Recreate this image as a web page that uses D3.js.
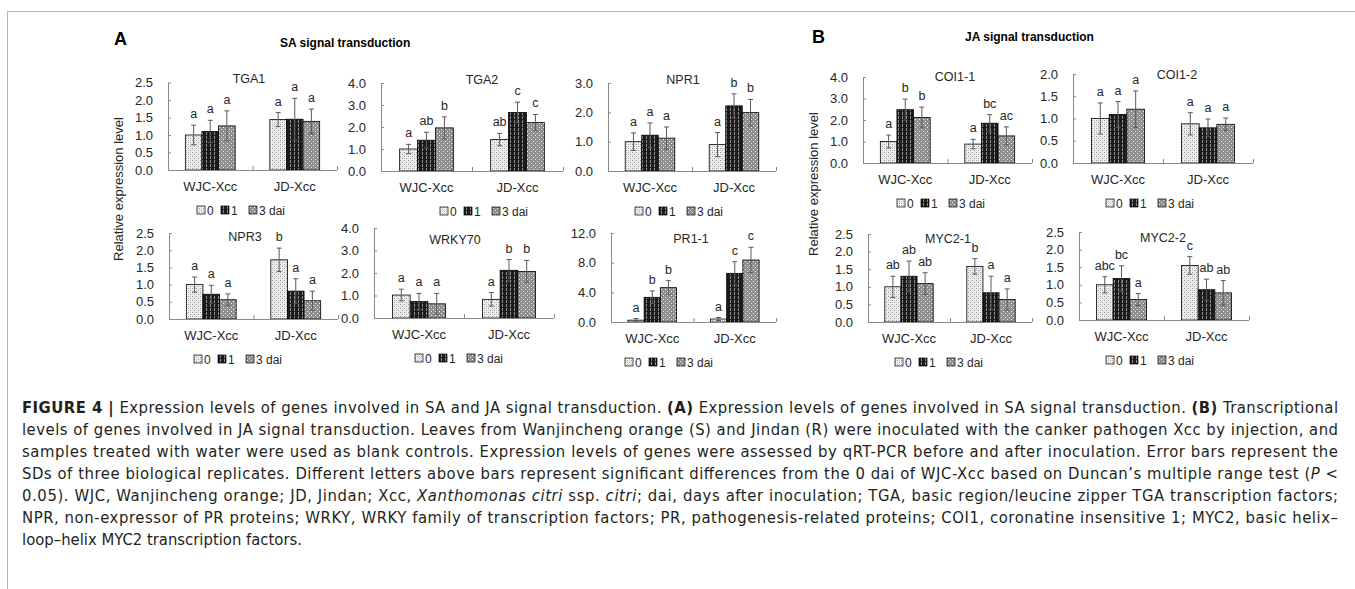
<!DOCTYPE html>
<html>
<head>
<meta charset="utf-8">
<title>Figure 4 - SA and JA signal transduction</title>
<script src="https://cdnjs.cloudflare.com/ajax/libs/d3/7.8.5/d3.min.js"></script>
<style>
    body { margin: 0; background: #fff; }
    svg { font-family: "Liberation Sans", Arial, sans-serif; }
    .tick text { fill: #262626; font-family: "Liberation Sans", Arial, sans-serif; }
    .ylab { font-size: 13px; fill: #262626; }
    .gene { font-size: 12.5px; fill: #262626; }
    .sig { font-size: 12.5px; fill: #262626; }
    .leg { font-size: 12px; fill: #262626; }
    .panel { font-weight: bold; font-size: 18px; fill: #000; }
    .ptitle { font-weight: bold; font-size: 12px; fill: #000; }
    .caption { font-family: "Liberation Sans Narrow", "DejaVu Sans Condensed", sans-serif; font-size: 16.5px; fill: #231f20; }
</style>
</head>
<body>
<div id="chart"></div>
<script>
// ---- data ----
var genes = ["TGA1", "TGA2", "NPR1", "NPR3", "WRKY70", "PR1-1", "COI1-1", "COI1-2", "MYC2-1", "MYC2-2"];
var categories = ["WJC-Xcc", "JD-Xcc"];
var timepoints = ["0", "1", "3 dai"];
var yMax = [2.5, 4, 3, 2.5, 4, 12, 4, 2, 2.5, 2.5];
var yStep = [0.5, 1, 1, 0.5, 1, 4, 1, 0.5, 0.5, 0.5];

// per gene: WJC (0, 1, 3 dai) then JD (0, 1, 3 dai)
var means = [
    [1.00, 1.10, 1.26, 1.44, 1.45, 1.39],
    [1.00, 1.40, 1.96, 1.43, 2.66, 2.20],
    [1.00, 1.22, 1.12, 0.90, 2.22, 1.99],
    [1.00, 0.72, 0.56, 1.72, 0.81, 0.53],
    [1.02, 0.73, 0.63, 0.83, 2.12, 2.07],
    [0.25, 3.33, 4.63, 0.40, 6.56, 8.36],
    [1.00, 2.48, 2.12, 0.88, 1.85, 1.26],
    [1.00, 1.09, 1.21, 0.88, 0.79, 0.87],
    [1.00, 1.30, 1.09, 1.58, 0.83, 0.64],
    [1.00, 1.18, 0.58, 1.55, 0.86, 0.77]
];
var sds = [
    [0.28, 0.32, 0.43, 0.20, 0.60, 0.35],
    [0.21, 0.36, 0.50, 0.28, 0.47, 0.37],
    [0.30, 0.42, 0.38, 0.41, 0.41, 0.45],
    [0.22, 0.26, 0.17, 0.34, 0.36, 0.28],
    [0.26, 0.36, 0.46, 0.30, 0.48, 0.49],
    [0.22, 0.85, 0.94, 0.20, 1.57, 1.71],
    [0.30, 0.49, 0.48, 0.22, 0.40, 0.42],
    [0.35, 0.29, 0.41, 0.25, 0.20, 0.14],
    [0.30, 0.43, 0.31, 0.22, 0.47, 0.30],
    [0.23, 0.36, 0.17, 0.25, 0.30, 0.35]
];
var letters = [
    ["a", "a", "a", "a", "a", "a"],
    ["a", "ab", "b", "ab", "c", "c"],
    ["a", "a", "a", "a", "b", "b"],
    ["a", "a", "a", "b", "a", "a"],
    ["a", "a", "a", "a", "b", "b"],
    ["a", "b", "b", "a", "c", "c"],
    ["a", "b", "b", "a", "bc", "ac"],
    ["a", "a", "a", "a", "a", "a"],
    ["ab", "ab", "ab", "b", "a", "a"],
    ["abc", "bc", "a", "c", "ab", "ab"]
];

// ---- layout of the small charts (pixels) ----
var frames = [
    {x0: 168, x1: 337, top: 82.5, base: 170, titleX: 249, titleY: 83, legX: 197},
    {x0: 381, x1: 563, top: 83, base: 171, titleX: 482, titleY: 84, legX: 440},
    {x0: 608, x1: 776, top: 83, base: 171, titleX: 683, titleY: 84, legX: 635},
    {x0: 169, x1: 338, top: 233, base: 319, titleX: 245, titleY: 241, legX: 194},
    {x0: 374, x1: 554, top: 228, base: 318, titleX: 455, titleY: 244, legX: 415},
    {x0: 611, x1: 776, top: 233, base: 322, titleX: 691, titleY: 243, legX: 625},
    {x0: 863, x1: 1032, top: 77, base: 163, titleX: 955, titleY: 81, legX: 897},
    {x0: 1073, x1: 1253, top: 74, base: 163, titleX: 1177, titleY: 79, legX: 1106},
    {x0: 868, x1: 1032, top: 234, base: 322, titleX: 948, titleY: 243, legX: 895},
    {x0: 1079, x1: 1249, top: 232, base: 320, titleX: 1163, titleY: 242, legX: 1106}
];

var axisColor = "#8a8a8a";
var errColor = "#595959";
var fontStack = "'Liberation Sans', Arial, sans-serif";

var svg = d3.select("#chart").append("svg")
    .attr("width", 1355)
    .attr("height", 589);

svg.append("rect").attr("width", 1355).attr("height", 589).attr("fill", "#fff");

/* fill patterns, like the excel ones */
var defs = svg.append("defs");

function makePattern(id, bg, dots) {
    var p = defs.append("pattern")
        .attr("id", id)
        .attr("patternUnits", "userSpaceOnUse")
        .attr("width", 4).attr("height", 4);
    p.append("rect").attr("width", 4).attr("height", 4).attr("fill", bg);
    dots.forEach(function(d) {
        p.append("rect").attr("x", d[0]).attr("y", d[1])
            .attr("width", d[2]).attr("height", d[3]).attr("fill", d[4]);
    });
}
makePattern("pat0", "#eeeeee", [[0, 0, 1, 1, "#9a9a9a"], [2, 2, 1, 1, "#9a9a9a"], [2, 0, 1, 1, "#cfcfcf"], [0, 2, 1, 1, "#cfcfcf"]]);
makePattern("pat1", "#1c1c1c", [[2, 0, 1, 3, "#8c8c8c"]]);
makePattern("pat2", "#8e8e8e", [[1, 1, 1, 1, "#eeeeee"], [3, 3, 1, 1, "#eeeeee"]]);
var fills = ["url(#pat0)", "url(#pat1)", "url(#pat2)"];

/* frame lines */
svg.append("line").attr("x1", 7).attr("x2", 1355).attr("y1", 11.5).attr("y2", 11.5)
    .attr("stroke", "#b5b5b5").attr("stroke-width", 1);
svg.append("line").attr("x1", 7.5).attr("x2", 7.5).attr("y1", 11).attr("y2", 589)
    .attr("stroke", "#b5b5b5").attr("stroke-width", 1);

/* panel labels */
svg.append("text").attr("class", "panel").attr("x", 114).attr("y", 45).text("A");
svg.append("text").attr("class", "panel").attr("x", 812).attr("y", 43).text("B");
svg.append("text").attr("class", "ptitle").attr("x", 280).attr("y", 47).text("SA signal transduction");
svg.append("text").attr("class", "ptitle").attr("x", 965).attr("y", 41).text("JA signal transduction");

svg.append("text").attr("class", "ylab")
    .attr("transform", "translate(123,189) rotate(-90)")
    .attr("text-anchor", "middle")
    .text("Relative expression level");
svg.append("text").attr("class", "ylab")
    .attr("transform", "translate(818,184) rotate(-90)")
    .attr("text-anchor", "middle")
    .text("Relative expression level");

/* one small bar chart per gene */
genes.forEach(function(gene, gi) {
    var f = frames[gi];
    var g = svg.append("g");

    var x = d3.scaleBand().domain(categories).range([f.x0, f.x1]).padding(0);
    var bw = x.bandwidth();
    var xs = d3.scaleBand().domain(timepoints).range([bw * 0.205, bw * 0.795]).padding(0);
    var y = d3.scaleLinear().domain([0, yMax[gi]]).range([f.base, f.top]);

    var ticks = d3.range(0, yMax[gi] + yStep[gi] / 2, yStep[gi]);

    var yAxis = d3.axisLeft(y)
        .tickValues(ticks)
        .tickFormat(d3.format(".1f"))
        .tickSizeInner(-3)
        .tickSizeOuter(0)
        .tickPadding(15);

    var ya = g.append("g")
        .attr("transform", "translate(" + f.x0 + ",0)")
        .call(yAxis)
        .attr("font-family", fontStack)
        .attr("font-size", 13);
    ya.selectAll("path, line").attr("stroke", axisColor);

    // category labels
    var xa = g.append("g")
        .attr("transform", "translate(0," + f.base + ")")
        .call(d3.axisBottom(x).tickSize(0).tickPadding(12))
        .attr("font-family", fontStack)
        .attr("font-size", 13);
    xa.select(".domain").remove();

    // bars
    var rows = [];
    categories.forEach(function(c, ci) {
        timepoints.forEach(function(t, ti) {
            var k = ci * 3 + ti;
            rows.push({cat: c, tp: t, ti: ti, v: means[gi][k], sd: sds[gi][k], lab: letters[gi][k]});
        });
    });

    g.selectAll(".bar").data(rows).enter()
        .append("rect")
        .attr("class", "bar")
        .attr("x", d => x(d.cat) + xs(d.tp))
        .attr("y", d => y(d.v))
        .attr("width", xs.bandwidth())
        .attr("height", d => y(0) - y(d.v))
        .attr("fill", d => fills[d.ti])
        .attr("stroke", "#000")
        .attr("stroke-width", 0.8);

    // error bars
    var eb = g.selectAll(".err").data(rows).enter().append("g").attr("class", "err")
        .attr("stroke", errColor).attr("stroke-width", 1);
    var cx = d => x(d.cat) + xs(d.tp) + xs.bandwidth() / 2;
    eb.append("line")
        .attr("x1", cx).attr("x2", cx)
        .attr("y1", d => y(Math.max(0, d.v - d.sd))).attr("y2", d => y(d.v + d.sd));
    eb.append("line")
        .attr("x1", d => cx(d) - 2.5).attr("x2", d => cx(d) + 2.5)
        .attr("y1", d => y(d.v + d.sd)).attr("y2", d => y(d.v + d.sd));
    eb.append("line")
        .attr("x1", d => cx(d) - 2.5).attr("x2", d => cx(d) + 2.5)
        .attr("y1", d => y(Math.max(0, d.v - d.sd))).attr("y2", d => y(Math.max(0, d.v - d.sd)));

    // x axis line with boundary ticks (drawn after the bars)
    g.append("line")
        .attr("x1", f.x0).attr("x2", f.x1)
        .attr("y1", f.base + 0.5).attr("y2", f.base + 0.5)
        .attr("stroke", axisColor);
    var bounds = categories.map(c => x(c)).concat([f.x1]);
    g.selectAll(".xt").data(bounds).enter().append("line")
        .attr("x1", d => d + 0.5).attr("x2", d => d + 0.5)
        .attr("y1", f.base).attr("y2", f.base - 4)
        .attr("stroke", axisColor);

    // significance letters
    g.selectAll(".sig").data(rows).enter()
        .append("text")
        .attr("class", "sig")
        .attr("text-anchor", "middle")
        .attr("x", cx)
        .attr("y", d => y(d.v + d.sd) - 7)
        .text(d => d.lab);

    // gene title
    g.append("text").attr("class", "gene")
        .attr("x", f.titleX).attr("y", f.titleY)
        .attr("text-anchor", "middle")
        .text(gene);

    // legend
    var legOff = [0, 24, 52];
    var ly = f.base + 40;
    var leg = g.selectAll(".legi").data(timepoints).enter().append("g")
        .attr("transform", (d, i) => "translate(" + (f.legX + legOff[i]) + "," + ly + ")");
    leg.append("rect")
        .attr("x", 0).attr("y", -4).attr("width", 8).attr("height", 8)
        .attr("fill", (d, i) => fills[i])
        .attr("stroke", "#000").attr("stroke-width", 0.7);
    leg.append("text").attr("class", "leg")
        .attr("x", 10).attr("y", 4.5)
        .text(d => d);
});

/* caption */
var captionLines = [
    [["FIGURE 4 |", "b"], [" Expression levels of genes involved in SA and JA signal transduction. "], ["(A)", "b"], [" Expression levels of genes involved in SA signal transduction. "], ["(B)", "b"], [" Transcriptional"]],
    [["levels of genes involved in JA signal transduction. Leaves from Wanjincheng orange (S) and Jindan (R) were inoculated with the canker pathogen Xcc by injection, and"]],
    [["samples treated with water were used as blank controls. Expression levels of genes were assessed by qRT-PCR before and after inoculation. Error bars represent the"]],
    [["SDs of three biological replicates. Different letters above bars represent significant differences from the 0 dai of WJC-Xcc based on Duncan\u2019s multiple range test ("], ["P", "i"], [" <"]],
    [["0.05). WJC, Wanjincheng orange; JD, Jindan; Xcc, "], ["Xanthomonas citri", "i"], [" ssp. "], ["citri", "i"], ["; dai, days after inoculation; TGA, basic region/leucine zipper TGA transcription factors;"]],
    [["NPR, non-expressor of PR proteins; WRKY, WRKY family of transcription factors; PR, pathogenesis-related proteins; COI1, coronatine insensitive 1; MYC2, basic helix\u2013"]],
    [["loop\u2013helix MYC2 transcription factors."]]
];

captionLines.forEach(function(line, i) {
    var t = svg.append("text").attr("class", "caption")
        .attr("x", 22)
        .attr("y", 413 + i * 22)
        .attr("xml:space", "preserve");
    if (i < captionLines.length - 1) {
        t.attr("textLength", 1316).attr("lengthAdjust", "spacing");
    }
    line.forEach(function(seg) {
        var s = t.append("tspan").text(seg[0]);
        if (seg[1] === "b") s.attr("font-weight", "bold");
        if (seg[1] === "i") s.attr("font-style", "italic");
    });
});
</script>
</body>
</html>
